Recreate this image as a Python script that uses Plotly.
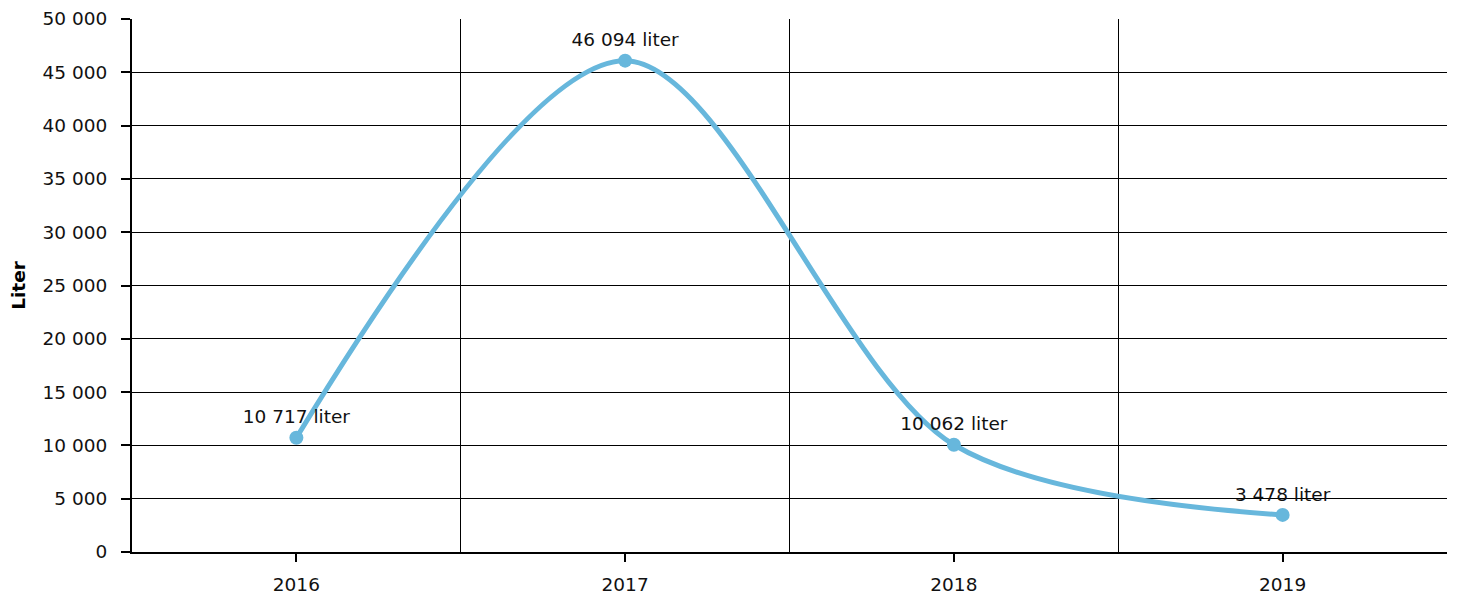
import plotly.graph_objects as go

years = ["2016", "2017", "2018", "2019"]
values = [10717, 46094, 10062, 3478]
y_ticks = [0, 5000, 10000, 15000, 20000, 25000, 30000, 35000, 40000, 45000, 50000]
y_title = "Liter"
unit = "liter"

xpos = list(range(len(years)))
font_family = "DejaVu Sans, Verdana, sans-serif"
fs = 18.5

fig = go.Figure()
fig.add_trace(go.Scatter(
    x=xpos, y=values,
    mode="lines+markers+text",
    line=dict(color="#67b7dc", width=5, shape="spline", smoothing=0.9),
    marker=dict(color="#67b7dc", size=14),
    text=[f"{v:,}".replace(",", " ") + " " + unit for v in values],
    textposition="top center",
    textfont=dict(family=font_family, size=fs, color="#111"),
    cliponaxis=False,
    hoverinfo="skip",
))

# page body has an 8px default margin, so the figure is offset by (8, 8)
fig.update_layout(
    width=1449, height=587,
    margin=dict(l=124, r=10, t=11, b=43, autoexpand=False),
    paper_bgcolor="white", plot_bgcolor="white",
    showlegend=False,
    font=dict(family=font_family, size=fs, color="#111"),
)
fig.update_xaxes(
    automargin=False,
    range=[-0.5, 3.5],
    tickmode="array", tickvals=xpos, ticktext=years,
    ticks="outside", ticklen=8, tickcolor="#000", tickwidth=1.5,
    showgrid=False, zeroline=False,
    showline=True, linecolor="#000", linewidth=2, mirror=False,
    minor=dict(tickmode="array", tickvals=[-0.5, 0.5, 1.5, 2.5, 3.5],
               showgrid=True, gridcolor="#000", gridwidth=1.2, ticks=""),
    ticklabelstandoff=7,
)
fig.update_yaxes(
    automargin=False,
    range=[0, 50000],
    tickmode="array", tickvals=y_ticks,
    ticktext=[f"{v:,}".replace(",", " ") for v in y_ticks],
    ticks="outside", ticklen=9, tickcolor="#000", tickwidth=1.5,
    showgrid=True, gridcolor="#000", gridwidth=1.2,
    zeroline=False,
    showline=True, linecolor="#000", linewidth=2,
    title=dict(text="<b>" + y_title + "</b>", font=dict(size=fs, color="#000"), standoff=12),
    ticklabelstandoff=10,
)

fig.write_html("out.html")
